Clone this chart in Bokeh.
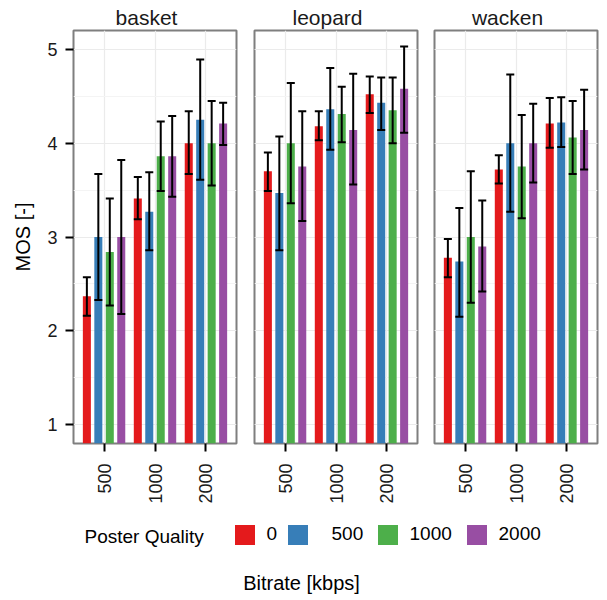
import math
from bokeh.plotting import figure
from bokeh.layouts import row, column
from bokeh.models import (ColumnDataSource, FactorRange, Range1d, FixedTicker,
                          Label, Legend, LegendItem, Grid, Title)
from bokeh.transform import dodge
from bokeh.embed import file_html
from bokeh.resources import INLINE

# ---------------- data ----------------
videos = ["basket", "leopard", "wacken"]
bitrates = ["500", "1000", "2000"]
qualities = ["0", "500", "1000", "2000"]
colors = ["#E41A1C", "#377EB8", "#4DAF4A", "#984EA3"]

# rows: poster quality 0, 500, 1000, 2000 ; columns: bitrate 500, 1000, 2000
basket_mos = [[2.37, 3.41, 4.00], [3.00, 3.27, 4.25], [2.84, 3.86, 4.00], [3.00, 3.86, 4.21]]
basket_lo = [[2.16, 3.19, 3.67], [2.33, 2.86, 3.61], [2.27, 3.49, 3.55], [2.18, 3.43, 3.98]]
basket_hi = [[2.57, 3.64, 4.34], [3.67, 3.69, 4.89], [3.41, 4.23, 4.45], [3.82, 4.29, 4.43]]

leopard_mos = [[3.70, 4.18, 4.52], [3.47, 4.36, 4.43], [4.00, 4.31, 4.35], [3.75, 4.14, 4.58]]
leopard_lo = [[3.49, 4.03, 4.32], [2.86, 3.93, 4.14], [3.36, 4.01, 4.00], [3.17, 3.56, 4.11]]
leopard_hi = [[3.90, 4.34, 4.71], [4.07, 4.80, 4.70], [4.64, 4.60, 4.70], [4.34, 4.74, 5.03]]

wacken_mos = [[2.78, 3.72, 4.21], [2.74, 4.00, 4.22], [3.00, 3.75, 4.06], [2.90, 4.00, 4.14]]
wacken_lo = [[2.57, 3.57, 3.95], [2.15, 3.27, 3.96], [2.30, 3.20, 3.67], [2.42, 3.58, 3.72]]
wacken_hi = [[2.98, 3.87, 4.48], [3.31, 4.73, 4.49], [3.70, 4.30, 4.45], [3.39, 4.42, 4.57]]

y_ticks = [1, 2, 3, 4, 5]
y_minor = [1.5, 2.5, 3.5, 4.5]

# ---------------- style ----------------
FONT = "Liberation Sans"
TXT = "#1A1A1A"
GRID = "#EBEBEB"
BORDER = "#7F7F7F"
FRAME_W, FRAME_H = 163, 413
TOP, BOTTOM = 30, 72
STEP = 0.9 / len(qualities)
BAR_W = STEP * 0.7
CAP_W = BAR_W
STRIP_PX = 21
STRIP_SHIFT = -8.5          # strip label centre relative to panel centre
CHAR_EM = {"a": .556, "b": .556, "c": .5, "d": .556, "e": .556, "k": .5, "l": .222,
           "n": .556, "o": .556, "p": .556, "r": .333, "s": .5, "t": .278, "w": .722}
LEG_KEY_X = [234, 287, 377, 466]   # legend swatch left edges (screen px)
LEG_GAP = [13, 24, 13, 12]         # swatch -> label gap (px)
KEY_AREA = 25                      # legend glyph area; visible swatch is 80% of it
KEY_INSET = KEY_AREA * 0.1


def text_w(s, px):
    return sum(CHAR_EM.get(ch, 0.55) for ch in s) * px


def make_panel(name, mos, lo, hi, idx):
    first = idx == 0
    last = idx == len(videos) - 1
    left = 73 if first else 9
    right = 10 if last else (9 if first else 8)
    p = figure(width=left + FRAME_W + right, height=TOP + FRAME_H + BOTTOM,
               x_range=FactorRange(factors=bitrates, range_padding=0.1,
                                   range_padding_units="absolute"),
               y_range=Range1d(0.8, 5.2),
               toolbar_location=None, output_backend="svg",
               y_axis_location="left" if first else None,
               min_border_left=left, min_border_right=right,
               min_border_top=TOP, min_border_bottom=BOTTOM)
    p.background_fill_color = "white"
    p.border_fill_color = "white"
    p.outline_line_color = BORDER
    p.outline_line_width = 2

    off_title = FRAME_W / 2 + STRIP_SHIFT - text_w(name, STRIP_PX) / 2
    t = Title(text=name, align="left", offset=off_title, text_font=FONT,
              text_font_size=f"{STRIP_PX}px", text_font_style="normal",
              text_color=TXT, standoff=4)
    p.add_layout(t, "above")

    ticker = FixedTicker(ticks=y_ticks, minor_ticks=y_minor)
    if first:
        ax = p.yaxis[0]
        ax.ticker = ticker
        ax.axis_line_color = None
        ax.major_tick_line_color = "black"
        ax.major_tick_line_width = 2
        ax.major_tick_out = 8
        ax.major_tick_in = 0
        ax.minor_tick_line_color = None
        ax.major_label_standoff = 8
        ax.major_label_text_font = FONT
        ax.major_label_text_font_size = "18px"
        ax.major_label_text_color = TXT
        ax.axis_label = "MOS [-]"
        ax.axis_label_text_font = FONT
        ax.axis_label_text_font_size = "20px"
        ax.axis_label_text_font_style = "normal"
        ax.axis_label_text_color = "black"
        ax.axis_label_standoff = 10
        p.ygrid.ticker = ticker
        yg = p.ygrid[0]
    else:
        yg = Grid(dimension=1, ticker=ticker)
        p.add_layout(yg)
    yg.grid_line_color = GRID
    yg.grid_line_width = 1.2
    yg.minor_grid_line_color = "#F4F4F4"
    yg.minor_grid_line_width = 1

    xa = p.xaxis[0]
    xa.axis_line_color = None
    xa.major_tick_line_color = "black"
    xa.major_tick_line_width = 2
    xa.major_tick_out = 8
    xa.major_tick_in = 0
    xa.minor_tick_line_color = None
    xa.major_label_orientation = math.pi / 2
    xa.major_label_standoff = 12
    xa.major_label_text_font = FONT
    xa.major_label_text_font_size = "18px"
    xa.major_label_text_color = TXT
    p.xgrid.grid_line_color = GRID
    p.xgrid.grid_line_width = 1.2

    for k, q in enumerate(qualities):
        off = (k - (len(qualities) - 1) / 2) * STEP
        src = ColumnDataSource(dict(bitrate=bitrates, mos=mos[k], lo=lo[k], hi=hi[k]))
        p.vbar(x=dodge("bitrate", off, range=p.x_range), top="mos", bottom=0,
               width=BAR_W, source=src, fill_color=colors[k], line_color=None)
        p.segment(x0=dodge("bitrate", off, range=p.x_range), y0="lo",
                  x1=dodge("bitrate", off, range=p.x_range), y1="hi",
                  source=src, line_color="black", line_width=2)
        for end in ("lo", "hi"):
            p.segment(x0=dodge("bitrate", off - CAP_W / 2, range=p.x_range), y0=end,
                      x1=dodge("bitrate", off + CAP_W / 2, range=p.x_range), y1=end,
                      source=src, line_color="black", line_width=2)
    return p


panels = [
    make_panel("basket", basket_mos, basket_lo, basket_hi, 0),
    make_panel("leopard", leopard_mos, leopard_lo, leopard_hi, 1),
    make_panel("wacken", wacken_mos, wacken_lo, wacken_hi, 2),
]

# ---------------- legend + x title ----------------
pb = figure(width=607, height=85, x_range=Range1d(0, 1), y_range=Range1d(0, 1),
            toolbar_location=None, output_backend="svg", min_border=0,
            x_axis_location=None, y_axis_location=None)
pb.outline_line_color = None
pb.background_fill_color = "white"
pb.border_fill_color = "white"
for g in pb.renderers:
    if isinstance(g, Grid):
        g.visible = False
pb.xgrid.visible = False
pb.ygrid.visible = False

for q, c, kx, gap in zip(qualities, colors, LEG_KEY_X, LEG_GAP):
    # off-canvas placeholder bar, only used to draw the legend swatch
    r = pb.vbar(x=[-5.0], top=[-5.0], bottom=[-6.0], width=0.1, fill_color=c, line_color=None)
    lg = Legend(items=[LegendItem(label=q, renderers=[r])], orientation="horizontal",
                location=(kx - KEY_INSET, 53.5), glyph_width=KEY_AREA, glyph_height=KEY_AREA,
                label_height=KEY_AREA, label_width=0,
                label_standoff=int(round(gap - KEY_INSET)),
                spacing=0, padding=0, margin=0, border_line_color=None,
                background_fill_alpha=0, label_text_font=FONT,
                label_text_font_size="19px", label_text_color="black")
    pb.add_layout(lg)

pb.add_layout(Label(x=84, y=64, x_units="screen", y_units="screen", text="Poster Quality",
                    text_align="left", text_baseline="middle", text_font=FONT,
                    text_font_size="19px", text_color="black"))
pb.add_layout(Label(x=301, y=18, x_units="screen", y_units="screen", text="Bitrate [kbps]",
                    text_align="center", text_baseline="middle", text_font=FONT,
                    text_font_size="20px", text_color="black"))

layout = column(row(*panels, spacing=0), pb, spacing=0)
open("out.html", "w").write(file_html(layout, INLINE))
